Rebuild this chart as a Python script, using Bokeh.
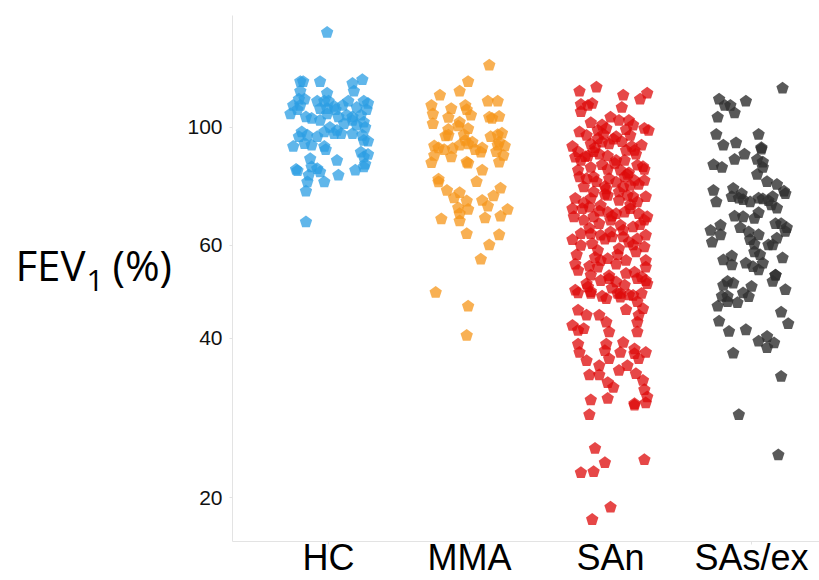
from bokeh.plotting import figure
from bokeh.models import ColumnDataSource, FixedTicker, Range1d
from bokeh.layouts import row
from bokeh.core.properties import value
from bokeh.embed import file_html
from bokeh.resources import INLINE

groups = ["HC", "MMA", "SAn", "SAs/ex"]
colors = ["#2b9de3", "#f5961a", "#dd0a0a", "#303030"]
alphas = [0.75, 0.75, 0.75, 0.8]
y_ticks = [20, 40, 60, 100]

# FEV1 (%) values and horizontal jitter (category units)
hc_jit = [-0.01, -0.20, -0.18, -0.06, 0.17, 0.24, -0.20, -0.01, 0.18, -0.21, -0.17, -0.25, -0.27, -0.22,
          -0.20, -0.08, -0.03, 0.00, -0.06, -0.01, 0.04, 0.10, 0.14, 0.20, 0.25, 0.28, 0.27, -0.16, -0.12,
          -0.06, -0.01, 0.05, 0.07, 0.13, 0.17, 0.23, 0.01, 0.06, 0.11, 0.17, 0.20, 0.25, 0.26, -0.19, -0.21,
          -0.15, -0.08, -0.03, 0.04, 0.09, 0.17, 0.24, 0.25, 0.28, -0.25, -0.17, -0.12, -0.03, -0.02, 0.23,
          0.25, 0.28, -0.13, -0.12, -0.08, -0.06, 0.06, -0.23, -0.22, 0.19, 0.26, 0.25, -0.14, -0.15, -0.03,
          0.07, -0.16, -0.16]
hc_val = [151, 122, 122, 122, 121, 123, 117, 116, 117, 113, 113, 110, 106, 108, 110, 112, 112, 112, 108.5,
          108.5, 109.5, 110, 112, 109, 112, 111, 108, 104.6, 104, 103, 106, 108, 104.6, 105.4, 104.6, 105.4,
          100, 98.7, 101.6, 103, 100.9, 102.3, 100, 98, 96, 96.6, 96, 98, 97.3, 97.3, 97.3, 96.6, 94.5, 94.2,
          92, 93.2, 92.5, 92, 90.8, 89.8, 87.9, 88.9, 87.3, 84.2, 83.6, 82.4, 86.6, 83.3, 82.8, 83, 85.2,
          84.2, 81.2, 78.9, 78.9, 81.2, 75.8, 66.3]

mma_jit = [0.14, -0.01, -0.07, -0.21, 0.13, 0.20, -0.27, -0.13, -0.03, -0.02, 0.01, -0.26, -0.15, -0.26,
           0.14, 0.21, 0.16, -0.07, -0.08, -0.15, -0.01, -0.17, -0.15, -0.04, -0.03, 0.23, 0.20, 0.15, 0.21,
           0.25, -0.25, -0.22, -0.18, -0.25, -0.13, -0.07, 0.02, -0.01, 0.09, 0.04, 0.19, 0.24, -0.27, -0.02,
           -0.01, 0.21, 0.09, -0.22, -0.22, 0.05, -0.16, 0.22, -0.07, -0.11, 0.17, -0.02, 0.09, 0.13, -0.01,
           -0.08, -0.07, 0.27, -0.20, 0.11, 0.22, -0.07, -0.02, 0.21, 0.14, 0.08, -0.24, -0.01, -0.02, -0.12,
           0.08, 0.20]
mma_val = [131, 122, 117, 115, 112, 112, 110, 108.5, 110, 108, 105.4, 106, 104.4, 101.6, 104.5, 104.8, 104,
           102.3, 100.6, 99.1, 99.4, 96.3, 96.6, 96.9, 94.5, 97.5, 96.9, 96, 93.8, 92.2, 92.2, 91.4, 90.8,
           88.5, 87.9, 92.5, 93.8, 93, 91.4, 90.8, 90, 88.5, 85.8, 86, 85.6, 86, 83, 79.8, 78.9, 79, 76, 76.8,
           75.3, 73.6, 74.2, 72.6, 72.8, 71, 70, 70.5, 68.7, 70, 67.2, 67.5, 68, 66.6, 63, 62.7, 60, 56.4,
           48.8, 46, 40.5, 91.2, 89.8, 92.5]

san_jit = [-0.22, -0.10, 0.09, 0.21, 0.26, -0.21, -0.16, -0.13, -0.21, 0.08, 0.00, -0.14, -0.06, 0.06, 0.13,
           0.16, 0.24, 0.27, -0.22, -0.17, -0.09, -0.03, 0.11, -0.27, -0.23, -0.14, -0.09, -0.06, -0.01, 0.04,
           0.14, 0.22, 0.17, 0.11, -0.12, -0.25, -0.21, -0.16, -0.08, -0.02, 0.04, 0.10, 0.18, 0.23, 0.24,
           -0.23, -0.14, -0.02, 0.07, 0.13, 0.19, -0.22, -0.17, -0.12, -0.01, 0.04, 0.10, 0.17, 0.24, -0.19,
           -0.04, 0.09, 0.14, -0.12, -0.04, -0.02, -0.25, -0.14, 0.16, 0.25, 0.12, 0.06, -0.07, 0.19, -0.27,
           -0.26, -0.20, -0.15, -0.02, 0.04, 0.10, 0.14, 0.20, 0.26, -0.19, -0.12, -0.08, 0.00, 0.07, 0.24,
           0.16, -0.27, -0.21, -0.14, -0.13, -0.07, 0.00, 0.01, 0.09, 0.13, 0.19, 0.25, -0.09, 0.06, 0.18,
           0.24, -0.21, -0.25, -0.23, -0.15, -0.14, -0.07, -0.02, 0.04, 0.11, 0.17, 0.25, 0.25, -0.09, -0.17,
           -0.07, -0.01, 0.04, 0.10, 0.19, 0.25, 0.26, -0.25, -0.14, -0.06, 0.01, 0.07, 0.13, 0.22,
           -0.23, -0.14, -0.03, 0.05, 0.16, 0.19, 0.23, -0.23, -0.17, -0.08, -0.03, 0.11, 0.20, 0.19, -0.27,
           -0.23, -0.19, -0.01, 0.19, -0.23, -0.22, -0.03, -0.04, 0.09, 0.07, 0.17, 0.17, 0.25, 0.20, -0.17,
           -0.01, -0.08, 0.06, 0.12, 0.18, -0.15, -0.08, -0.02, 0.02, 0.23, 0.24, 0.26, 0.17, 0.25, -0.14,
           -0.02, -0.15, 0.17, -0.11, 0.24, -0.04, -0.12, -0.21, 0.00, -0.13,
           -0.05, 0.02, 0.08, -0.11, 0.15, -0.18, 0.03, -0.06, 0.12, -0.10, 0.20, -0.03, 0.06, -0.19, 0.14,
           -0.08, 0.01, 0.21, -0.15, 0.09, -0.04, 0.16, -0.24, 0.05, -0.11, 0.11, -0.01, 0.22, -0.16, 0.07]
san_val = [117, 119, 115, 113, 116, 110.5, 110, 111, 107, 109, 104.5, 102, 101, 103, 103, 101, 99.5, 98.7,
           98, 96.5, 98.7, 99.5, 99, 92, 90, 93, 95.2, 93.8, 93, 96, 96.5, 92.5, 90.5, 90.5, 90, 87.8, 86.6,
           88.3, 89, 88.3, 86.6, 86.6, 89, 84.3, 83.3, 83, 84, 83.3, 83, 82, 84.8, 80.6, 80, 80.6, 80, 78.8,
           80.6, 79.4, 79.4, 77.2, 77.4, 77.2, 77.7, 75.5, 74.7, 74.4, 73.4, 73.4, 74, 74, 74.4, 72.8, 71.2,
           72.3, 70.2, 67.8, 70.2, 70.7, 69.2, 68.7, 69.2, 70.2, 68.7, 67.8, 66.8, 67.8, 65.8, 66.8, 65.4,
           66.8, 64.9, 61.4, 63, 63, 60.3, 62.6, 63.5, 62.1, 62.1, 60.7, 61.6, 62.6, 58.6, 59, 58.2, 59.5,
           59.9, 55.2, 53.7, 54.7, 52.6, 56.1, 56.5, 55.2, 56.1, 53.3, 56.1, 54.5, 54.5, 50.7, 51.4, 51.8,
           51.1, 50.4, 51.8, 51.4, 50.7, 49.3, 49, 48, 49.7, 48.6, 48.3, 48.6,
           48.7, 48.6, 47.5, 48.6, 48.2, 46.9, 45.5, 45.2, 44.2, 44.2, 42.9, 45.3, 44.2, 42.9, 42.3,
           41.4, 41.7, 41.1, 41.1, 39, 37.6, 39, 37.9, 39.3, 37.6, 38.2, 37.4, 37.6, 36.6, 36.3,
           36.6, 35.5, 34.8, 35.5, 34.3, 34.1, 34.1, 33, 32.3, 33.3, 32, 31, 30.1, 30.2, 30.6,
           30.8, 28.7, 29.9, 24.8, 23.6, 23.3, 22.4, 22.3, 19.2, 18.2,
           97, 95, 94, 91.5, 92, 88, 85.5, 85, 81.5, 79, 78, 76.5, 75.5, 72, 71.5,
           69.5, 68, 65.5, 64.5, 64, 61.5, 60, 57.5, 57.5, 56.8, 53, 52.5, 52.2, 50, 47.8]

sas_jit = [0.22, -0.23, -0.04, -0.19, -0.15, -0.12, -0.24, -0.25, 0.05, -0.20, -0.11, -0.05, 0.07, 0.07,
           -0.12, -0.27, -0.21, 0.04, 0.08, 0.08, 0.04, 0.11, 0.18, 0.23, 0.24, -0.27, -0.25, -0.13, -0.14,
           -0.07, -0.09, -0.06, -0.01, 0.05, 0.08, 0.12, 0.14, 0.18, 0.15, -0.12, -0.06, 0.05, 0.02, -0.22,
           -0.29, -0.22, -0.28, -0.08, -0.02, -0.01, 0.02, 0.05, 0.12, 0.17, 0.21, 0.25, 0.24, 0.18, 0.15,
           0.02, 0.06, -0.20, -0.14, -0.14, -0.04, 0.01, 0.05, 0.08, 0.22, 0.17,
           -0.17, -0.13, -0.20, 0.00, 0.17, 0.15, 0.24, -0.21, -0.17, -0.17, -0.06, -0.02, -0.24, -0.10,
           0.21, 0.26, -0.23, -0.16, -0.04, 0.05, 0.11, 0.16, 0.11, -0.13, 0.21, -0.09, 0.19]
sas_val = [118.5, 113, 112, 110, 110, 106.5, 104.5, 97, 97, 92.5, 93.5, 89, 91, 91.5, 87, 85, 84, 87, 86, 84,
           81.5, 79, 78, 75.8, 75, 76, 72.3, 76.7, 74, 75, 73.5, 73, 72.3, 73.5, 73.3, 72.7, 71.4, 70.4, 74,
           68, 67.8, 69, 67.3, 65.4, 63.9, 62.7, 60.7, 64.7, 63.5, 61.4, 60.2, 62.7, 60, 65.8, 65.8, 64.7,
           63.6, 61.8, 60, 58.2, 57.5, 56.2, 57.2, 55, 55.4, 54.6, 53.8, 55.4, 56.7, 52.6,
           51.2, 50.8, 50.3, 50.1, 52.6, 51.2, 49.4, 48, 48, 46.9, 48.7, 47.9, 46, 46.7, 44.8, 42.6, 43.1,
           41.2, 41.5, 39.5, 40.3, 39.2, 38.4, 37.5, 33.9, 28.7, 24.1]

jitters = [hc_jit, mma_jit, san_jit, sas_jit]
values = [hc_val, mma_val, san_val, sas_val]


def bare(fig):
    fig.outline_line_color = None
    fig.grid.visible = False
    return fig


# ---- left panel holding the y-axis title ----
lab = bare(figure(width=176, height=580, output_backend="svg", toolbar_location=None,
                  x_range=Range1d(0, 176), y_range=Range1d(580, 0),
                  x_axis_location=None, y_axis_location=None,
                  min_border_left=0, min_border_right=0, min_border_top=0, min_border_bottom=0))
lab.text(x=[85], y=[275], text=["FEV"], text_align="right", text_baseline="alphabetic",
         text_font=value("Open Sans"), text_font_size="42px", text_color="#000000")
lab.text(x=[86], y=[292], text=["1"], text_align="left", text_baseline="alphabetic",
         text_font=value("Open Sans"), text_font_size="30px", text_color="#000000")
lab.text(x=[112], y=[275], text=["(%)"], text_align="left", text_baseline="alphabetic",
         text_font=value("Open Sans"), text_font_size="42px", text_color="#000000")

# ---- main scatter panel ----
p = bare(figure(width=643, height=580, y_axis_type="log", output_backend="svg", toolbar_location=None,
                x_range=Range1d(0.319, 4.482), y_range=Range1d(16.55, 162.6),
                min_border_left=56, min_border_right=0, min_border_top=15, min_border_bottom=39))

for i, (jit, val) in enumerate(zip(jitters, values)):
    src = ColumnDataSource(dict(x=[i + 1 + j for j in jit], y=val))
    p.ngon(x="x", y="y", radius=6.5, radius_units="screen", n=5, angle=0,
           source=src, fill_color=colors[i], fill_alpha=alphas[i], line_color=None)

ax = p.yaxis[0]
ax.ticker = FixedTicker(ticks=y_ticks, minor_ticks=[])
ax.major_label_overrides = {t: str(t) for t in y_ticks}
ax.axis_line_color = "#e3e3e3"
ax.major_tick_line_color = "#e3e3e3"
ax.major_tick_in = 0
ax.major_tick_out = 3
ax.minor_tick_line_color = None
ax.major_label_text_font = "Liberation Sans"
ax.major_label_text_font_size = "21px"
ax.major_label_text_color = "#111111"
ax.major_label_standoff = 7

xa = p.xaxis[0]
xa.ticker = FixedTicker(ticks=[1, 2, 3, 4], minor_ticks=[])
xa.major_label_overrides = {i + 1: g for i, g in enumerate(groups)}
xa.major_label_text_font = "Liberation Sans"
xa.major_label_text_font_size = "36px"
xa.major_label_text_color = "#000000"
xa.major_label_standoff = -8
xa.axis_line_color = "#e3e3e3"
xa.major_tick_line_color = "#e3e3e3"
xa.major_tick_in = 0
xa.major_tick_out = 3
xa.minor_tick_line_color = None

layout = row(lab, p, spacing=0)
open("out.html", "w").write(file_html(layout, INLINE))
